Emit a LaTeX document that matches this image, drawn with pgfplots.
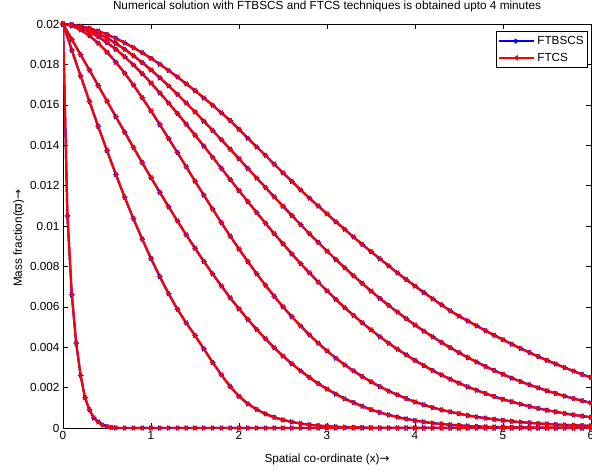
\documentclass[border=0pt]{standalone}
\usepackage{fontspec}
\setmainfont{Liberation Sans}
\newfontfamily\dejavu{DejaVu Sans}
\usepackage{pgfplots}
\usepackage{pgfplotstable}
\pgfplotsset{compat=1.18}

% mass fraction profiles, one column per curve (a = widest ... f)
\pgfplotstableread{
x a b c d e f
0.0 0.02000 0.02000 0.02000 0.02000 0.02000 0.02000
0.1 0.01997 0.01996 0.01994 0.01991 0.01924 0.01871
0.2 0.01989 0.01986 0.01981 0.01971 0.01848 0.01743
0.3 0.01979 0.01971 0.01962 0.01942 0.01772 0.01617
0.4 0.01965 0.01952 0.01937 0.01905 0.01695 0.01493
0.5 0.01948 0.01930 0.01908 0.01861 0.01618 0.01373
0.6 0.01929 0.01904 0.01875 0.01811 0.01541 0.01256
0.7 0.01907 0.01875 0.01838 0.01757 0.01465 0.01143
0.8 0.01883 0.01843 0.01797 0.01698 0.01389 0.01036
0.9 0.01858 0.01809 0.01754 0.01635 0.01314 0.00935
1.0 0.01830 0.01773 0.01708 0.01570 0.01239 0.00839
1.1 0.01801 0.01734 0.01659 0.01502 0.01167 0.00749
1.2 0.01770 0.01694 0.01609 0.01433 0.01095 0.00665
1.3 0.01738 0.01652 0.01557 0.01363 0.01025 0.00588
1.4 0.01704 0.01609 0.01504 0.01293 0.00956 0.00520
1.5 0.01670 0.01565 0.01450 0.01222 0.00890 0.00458
1.6 0.01634 0.01519 0.01396 0.01153 0.00825 0.00392
1.7 0.01598 0.01473 0.01341 0.01084 0.00763 0.00325
1.8 0.01560 0.01427 0.01285 0.01016 0.00703 0.00263
1.9 0.01522 0.01380 0.01230 0.00950 0.00644 0.00205
2.0 0.01479 0.01333 0.01175 0.00886 0.00590 0.00157
2.1 0.01435 0.01285 0.01121 0.00824 0.00538 0.00120
2.2 0.01392 0.01238 0.01067 0.00764 0.00488 0.00092
2.3 0.01350 0.01191 0.01014 0.00707 0.00442 0.00070
2.4 0.01306 0.01144 0.00962 0.00652 0.00397 0.00053
2.5 0.01263 0.01098 0.00912 0.00600 0.00356 0.00040
2.6 0.01221 0.01052 0.00862 0.00551 0.00318 0.00030
2.7 0.01179 0.01007 0.00814 0.00505 0.00283 0.00022
2.8 0.01138 0.00962 0.00768 0.00461 0.00250 0.00016
2.9 0.01099 0.00919 0.00722 0.00420 0.00220 0.00012
3.0 0.01060 0.00876 0.00679 0.00382 0.00193 0.00009
3.1 0.01021 0.00834 0.00637 0.00346 0.00168 0.00006
3.2 0.00984 0.00794 0.00596 0.00313 0.00145 0.00004
3.3 0.00946 0.00754 0.00558 0.00283 0.00126 0.00003
3.4 0.00909 0.00716 0.00521 0.00255 0.00108 0.00002
3.5 0.00873 0.00678 0.00486 0.00229 0.00091 0.00001
3.6 0.00838 0.00642 0.00452 0.00205 0.00077 0.00000
3.7 0.00803 0.00607 0.00420 0.00183 0.00065 0.00000
3.8 0.00768 0.00574 0.00390 0.00164 0.00054 0.00000
3.9 0.00735 0.00541 0.00362 0.00146 0.00045 0.00000
4.0 0.00703 0.00510 0.00335 0.00129 0.00037 0.00000
4.1 0.00671 0.00480 0.00309 0.00115 0.00030 0.00000
4.2 0.00640 0.00452 0.00285 0.00101 0.00024 0.00000
4.3 0.00610 0.00424 0.00263 0.00090 0.00020 0.00000
4.4 0.00580 0.00398 0.00242 0.00080 0.00016 0.00000
4.5 0.00554 0.00373 0.00222 0.00071 0.00013 0.00000
4.6 0.00530 0.00349 0.00204 0.00062 0.00010 0.00000
4.7 0.00506 0.00327 0.00187 0.00055 0.00008 0.00000
4.8 0.00482 0.00305 0.00171 0.00049 0.00006 0.00000
4.9 0.00459 0.00285 0.00156 0.00043 0.00005 0.00000
5.0 0.00437 0.00266 0.00142 0.00038 0.00004 0.00000
5.1 0.00415 0.00247 0.00130 0.00033 0.00003 0.00000
5.2 0.00394 0.00230 0.00118 0.00029 0.00003 0.00000
5.3 0.00374 0.00214 0.00107 0.00026 0.00002 0.00000
5.4 0.00354 0.00199 0.00097 0.00022 0.00002 0.00000
5.5 0.00335 0.00184 0.00088 0.00020 0.00002 0.00000
5.6 0.00317 0.00171 0.00080 0.00017 0.00001 0.00000
5.7 0.00299 0.00158 0.00072 0.00015 0.00001 0.00000
5.8 0.00282 0.00146 0.00065 0.00014 0.00001 0.00000
5.9 0.00265 0.00135 0.00059 0.00012 0.00001 0.00000
6.0 0.00250 0.00124 0.00053 0.00011 0.00001 0.00000
}\curves

% steepest profile (finer near x = 0)
\pgfplotstableread{
x g
0.00 0.02000
0.05 0.01050
0.10 0.00660
0.15 0.00420
0.20 0.00260
0.25 0.00150
0.30 0.00090
0.35 0.00050
0.40 0.00030
0.45 0.00015
0.50 0.00007
0.55 0.00003
0.60 0.00001
0.7 0
0.8 0
0.9 0
1.0 0
1.1 0
1.2 0
1.3 0
1.4 0
1.5 0
1.6 0
1.7 0
1.8 0
1.9 0
2.0 0
2.1 0
2.2 0
2.3 0
2.4 0
2.5 0
2.6 0
2.7 0
2.8 0
2.9 0
3.0 0
3.1 0
3.2 0
3.3 0
3.4 0
3.5 0
3.6 0
3.7 0
3.8 0
3.9 0
4.0 0
4.1 0
4.2 0
4.3 0
4.4 0
4.5 0
4.6 0
4.7 0
4.8 0
4.9 0
5.0 0
5.1 0
5.2 0
5.3 0
5.4 0
5.5 0
5.6 0
5.7 0
5.8 0
5.9 0
6.0 0
}\curveg

\definecolor{mblue}{RGB}{0,0,255}
\definecolor{mred}{RGB}{255,0,0}

\pgfplotsset{
  ftbscs/.style={mblue, line width=2.2bp, mark=triangle*, mark size=2.6bp,
    mark options={solid, rotate=-90, line width=0.6bp}},
  ftcs/.style={mred, line width=2.2bp, mark=triangle*, mark size=2.6bp,
    mark options={solid, rotate=90, line width=0.6bp}},
}

\begin{document}
\begin{tikzpicture}
\begin{axis}[
    scale only axis,
    width=528bp, height=404bp,
    xmin=0, xmax=6,
    ymin=0, ymax=0.02,
    xtick={0,1,2,3,4,5,6},
    ytick={0,0.002,0.004,0.006,0.008,0.01,0.012,0.014,0.016,0.018,0.02},
    scaled y ticks=false,
    yticklabel style={/pgf/number format/fixed, /pgf/number format/precision=3},
    /pgf/number format/assume math mode=true,
    tick align=inside,
    major tick length=5bp,
    tick style={black, line width=0.5bp},
    axis line style={line width=0.6bp},
    tick label style={font=\fontsize{11.8}{13}\selectfont},
    title={Numerical solution with FTBSCS and FTCS techniques is obtained upto 4 minutes},
    title style={font=\fontsize{11.8}{13}\selectfont, at={(axis description cs:0.5,1)}, anchor=base, yshift=9bp},
    xlabel={Spatial co-ordinate (x){\dejavu →}},
    xlabel style={font=\fontsize{11.8}{13}\selectfont, at={(axis description cs:0.5,0)}, anchor=base, yshift=-34bp},
    ylabel={Mass fraction({\dejavu ϖ}){\dejavu →}},
    ylabel style={font=\fontsize{11.8}{13}\selectfont, at={(axis description cs:-0.0777,0.47)}, anchor=base},
    legend style={at={(1,1)}, anchor=north east, xshift=-3bp, yshift=-7bp,
      draw=black, line width=0.6bp, font=\fontsize{11.8}{13}\selectfont,
      inner xsep=2bp, inner ysep=3bp, row sep=3bp},
    legend cell align=left,
    legend image code/.code={
      \draw[mark repeat=2, mark phase=2] plot coordinates {(0bp,0bp) (17bp,0bp) (35bp,0bp)};
    },
]
% FTBSCS
\addplot[ftbscs] table[x=x, y=a] {\curves};
\addlegendentry{FTBSCS}
\addplot[ftbscs, forget plot] table[x=x, y=b] {\curves};
\addplot[ftbscs, forget plot] table[x=x, y=c] {\curves};
\addplot[ftbscs, forget plot] table[x=x, y=d] {\curves};
\addplot[ftbscs, forget plot] table[x=x, y=e] {\curves};
\addplot[ftbscs, forget plot] table[x=x, y=f] {\curves};
\addplot[ftbscs, forget plot] table[x=x, y=g] {\curveg};
% FTCS
\addplot[ftcs] table[x=x, y=a] {\curves};
\addlegendentry{FTCS}
\addplot[ftcs, forget plot] table[x=x, y=b] {\curves};
\addplot[ftcs, forget plot] table[x=x, y=c] {\curves};
\addplot[ftcs, forget plot] table[x=x, y=d] {\curves};
\addplot[ftcs, forget plot] table[x=x, y=e] {\curves};
\addplot[ftcs, forget plot] table[x=x, y=f] {\curves};
\addplot[ftcs, forget plot] table[x=x, y=g] {\curveg};
\end{axis}
\pgfresetboundingbox
\path ([xshift=-63bp,yshift=-44bp]current axis.south west) rectangle ([xshift=1bp,yshift=24bp]current axis.north east);
\end{tikzpicture}
\end{document}
